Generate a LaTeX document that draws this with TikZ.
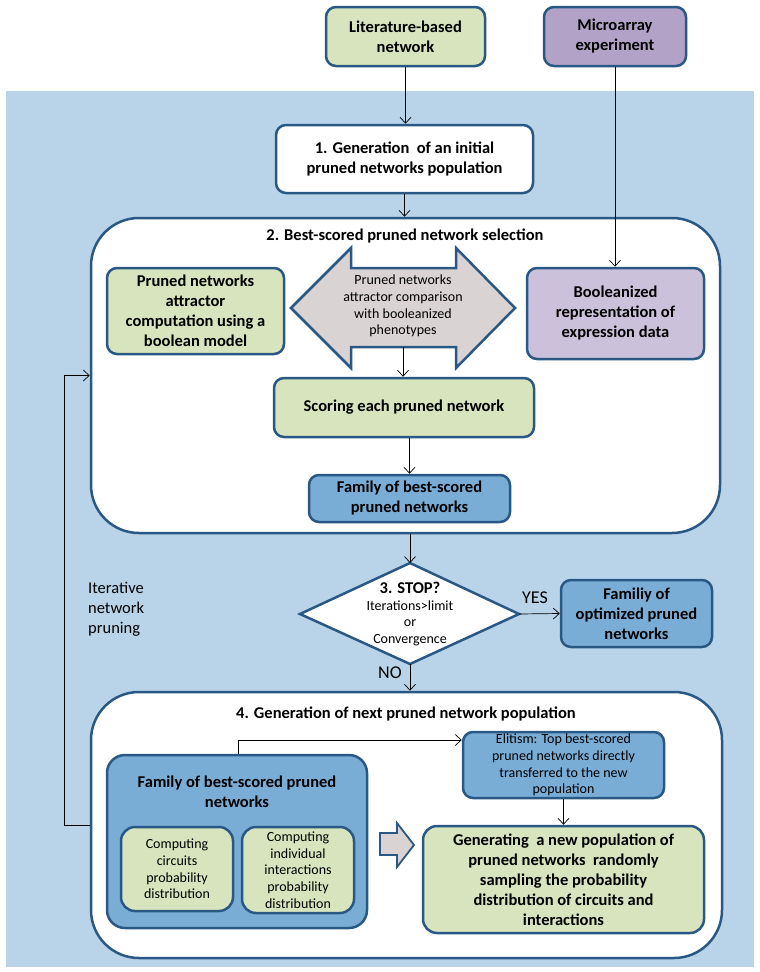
\documentclass[tikz,border=0pt]{standalone}
\usepackage{fontspec}
\setmainfont{Carlito}
\usetikzlibrary{arrows.meta}
\definecolor{bgblue}{RGB}{185,212,233}
\definecolor{bord}{RGB}{42,88,132}
\definecolor{lgreen}{RGB}{215,228,189}
\definecolor{dpurple}{RGB}{179,162,199}
\definecolor{lpurple}{RGB}{204,193,218}
\definecolor{mblue}{RGB}{122,173,214}
\definecolor{lgray}{RGB}{218,211,211}
\newcommand\fsA{\fontsize{16.5}{20}\selectfont}
\newcommand\fsB{\fontsize{14}{16.7}\selectfont}
\begin{document}
\begin{tikzpicture}[x=1pt,y=-1pt,
  bx/.style={draw=bord, line width=2.5pt, rounded corners=10pt, inner sep=0pt, align=center, font=\bfseries\fsA},
  bigbx/.style={draw=bord, line width=2.5pt, rounded corners=48pt, fill=white, inner sep=0pt},
  arr/.style={-{Straight Barb[length=6pt,width=11pt]}, line width=0.7pt, black},
  txt/.style={inner sep=0pt, align=center}]
\useasboundingbox (0,0) rectangle (760,972);
\fill[bgblue] (6,91) rectangle (754,967);

% top boxes
\node[bx, fill=lgreen, minimum width=159, minimum height=59] (lit) at (405.5,36.5) {Literature-based\\network};
\node[bx, fill=dpurple, minimum width=142, minimum height=59] (micro) at (615,36.5) {Microarray\\experiment};
\node[bx, fill=white, minimum width=257, minimum height=68] (gen1) at (404.5,159) {1. Generation~ of an initial\\pruned networks population};

% box 2
\node[bigbx, minimum width=629, minimum height=315] (box2) at (405.5,375.5) {};
\node[txt, font=\bfseries\fsA] (t2) at (405,236) {2. Best-scored pruned network selection};
\node[bx, fill=lgreen, minimum width=177, minimum height=86] (prun) at (195.5,311) {Pruned networks\\attractor\\computation using a\\boolean model};
\fill[lgray, draw=bord, line width=2.5pt, line join=miter]
  (291,308) -- (351,248) -- (351,268) -- (456,268) -- (456,248) -- (515,308)
  -- (456,368) -- (456,347) -- (351,347) -- (351,368) -- cycle;
\node[txt, font=\fsB] (cmp) at (403,306) {Pruned networks\\attractor comparison\\with booleanized\\phenotypes};
\coordinate (cmpout) at (403,347);
\node[bx, fill=lpurple, minimum width=177, minimum height=91] (bool) at (615.5,313.5) {Booleanized\\representation of\\expression data};
\node[bx, fill=lgreen, minimum width=260, minimum height=59] (score) at (404,407.5) {Scoring each pruned network};
\node[bx, fill=mblue, minimum width=201, minimum height=47] (fam1) at (409.5,498.5) {Family of best-scored\\pruned networks};

% diamond
\coordinate (dtop) at (410,563);
\coordinate (dright) at (519,614);
\coordinate (dbot) at (410,664);
\coordinate (dleft) at (300,614);
\draw[fill=white, draw=bord, line width=2.5pt] (dtop) -- (dright) -- (dbot) -- (dleft) -- cycle;
\node[txt, font=\fsB] (stop) at (410,614) {{\bfseries\fontsize{16.5}{17}\selectfont 3. STOP?}\\Iterations>limit\\or\\Convergence};
\node[bx, fill=mblue, minimum width=151, minimum height=67] (opt) at (636.5,613.5) {Familiy of\\optimized pruned\\networks};
\node[txt, font=\fontsize{18}{20}\selectfont] (yes) at (535,598) {YES};
\node[txt, font=\fontsize{18}{20}\selectfont] (no) at (390,673) {NO};
\node[txt, anchor=north west, align=left, font=\fontsize{16.5}{20}\selectfont] (iter) at (88,582) {Iterative\\network\\pruning};

% box 4
\node[bigbx, minimum width=631, minimum height=266] (box4) at (406.5,825) {};
\node[txt, font=\bfseries\fsA] (t4) at (406,714) {4. Generation of next pruned network population};
\node[bx, fill=mblue, minimum width=260, minimum height=173, rounded corners=18pt] (fam2) at (237,841.5) {};
\node[txt, font=\bfseries\fsA] (fam2t) at (237,792) {Family of best-scored pruned\\networks};
\node[bx, fill=lgreen, minimum width=112, minimum height=84, rounded corners=14pt, font=\fsB] (inA) at (177,869) {Computing\\circuits\\probability\\distribution};
\node[bx, fill=lgreen, minimum width=112, minimum height=86, rounded corners=14pt, font=\fsB] (inB) at (298,870) {Computing\\individual\\interactions\\probability\\distribution};
\node[bx, fill=mblue, minimum width=201, minimum height=66, font=\fsB] (elit) at (563.5,765) {Elitism: Top best-scored\\pruned networks directly\\transferred to the new\\population};
\node[bx, fill=lgreen, minimum width=281, minimum height=107, rounded corners=14pt] (gener) at (563.5,879.5) {Generating~ a new population of\\pruned networks~ randomly\\sampling the probability\\distribution of circuits and\\interactions};
\fill[lgray, draw=bord, line width=1.8pt, line join=miter]
  (380,833) -- (397,833) -- (397,823) -- (414,845) -- (397,867) -- (397,855) -- (380,855) -- cycle;

% connectors
\draw[arr] (lit.south) -- (lit.south |- gen1.north);
\draw[arr] (gen1.south) -- (gen1.south |- box2.north);
\draw[arr] (micro.south) -- (micro.south |- bool.north);
\draw[arr] (cmpout) -- (cmpout |- score.north);
\draw[arr] (fam1.north |- score.south) -- (fam1.north);
\draw[arr] (dtop |- box2.south) -- (dtop);
\draw[arr] (dright) -- (opt.west);
\draw[arr] (dbot) -- (dbot |- box4.north);
\coordinate (fb) at (64,825);
\draw[arr] (box4.west) -- (fb) -- (fb |- box2.west) -- (box2.west);
\coordinate (elbow) at (238,740);
\draw[arr] (elbow |- fam2.north) -- (elbow) -- (elit.west |- elbow);
\draw[arr] (elit.south) -- (elit.south |- gener.north);
\end{tikzpicture}
\end{document}
